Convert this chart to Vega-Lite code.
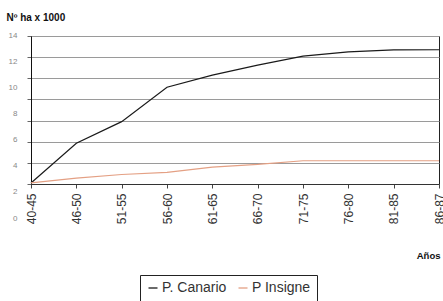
{
  "$schema": "https://vega.github.io/schema/vega-lite/v6.json",
  "width": 408,
  "height": 148,
  "autosize": "none",
  "padding": {"left": 31, "top": 36, "right": 4, "bottom": 117},
  "background": "white",
  "config": {
    "font": "Liberation Sans",
    "view": {"stroke": "#222", "strokeWidth": 1}
  },
  "data": {
    "values": [
      {"periodo": "40-45", "serie": "P. Canario", "ha": 0.1},
      {"periodo": "46-50", "serie": "P. Canario", "ha": 3.85},
      {"periodo": "51-55", "serie": "P. Canario", "ha": 5.9},
      {"periodo": "56-60", "serie": "P. Canario", "ha": 9.15},
      {"periodo": "61-65", "serie": "P. Canario", "ha": 10.3},
      {"periodo": "66-70", "serie": "P. Canario", "ha": 11.25},
      {"periodo": "71-75", "serie": "P. Canario", "ha": 12.1},
      {"periodo": "76-80", "serie": "P. Canario", "ha": 12.5},
      {"periodo": "81-85", "serie": "P. Canario", "ha": 12.68},
      {"periodo": "86-87", "serie": "P. Canario", "ha": 12.7},
      {"periodo": "40-45", "serie": "P Insigne", "ha": 0.1},
      {"periodo": "46-50", "serie": "P Insigne", "ha": 0.55},
      {"periodo": "51-55", "serie": "P Insigne", "ha": 0.9},
      {"periodo": "56-60", "serie": "P Insigne", "ha": 1.1},
      {"periodo": "61-65", "serie": "P Insigne", "ha": 1.6},
      {"periodo": "66-70", "serie": "P Insigne", "ha": 1.85},
      {"periodo": "71-75", "serie": "P Insigne", "ha": 2.2},
      {"periodo": "76-80", "serie": "P Insigne", "ha": 2.2},
      {"periodo": "81-85", "serie": "P Insigne", "ha": 2.2},
      {"periodo": "86-87", "serie": "P Insigne", "ha": 2.2}
    ]
  },
  "mark": {"type": "line", "strokeWidth": 1.2},
  "encoding": {
    "x": {
      "field": "periodo",
      "type": "ordinal",
      "sort": null,
      "scale": {"type": "point", "padding": 0},
      "axis": {
        "title": "Años",
        "titleFont": "Liberation Sans",
        "titleFontWeight": "bold",
        "titleFontSize": 9.5,
        "titleColor": "#111",
        "titleAlign": "right",
        "titleBaseline": "alphabetic",
        "titleX": 409,
        "titleY": 74,
        "labelAngle": -90,
        "labelFontSize": 12,
        "labelColor": "#333",
        "labelPadding": 5,
        "tickSize": 4,
        "tickColor": "#444",
        "domainColor": "#333",
        "grid": false
      }
    },
    "y": {
      "field": "ha",
      "type": "quantitative",
      "scale": {"domain": [0, 14], "nice": false, "zero": true},
      "axis": {
        "values": [0, 2, 4, 6, 8, 10, 12, 14],
        "title": "Nº ha x 1000",
        "titleFont": "Liberation Sans",
        "titleFontWeight": "bold",
        "titleFontSize": 10,
        "titleColor": "#111",
        "titleAngle": 0,
        "titleAlign": "left",
        "titleBaseline": "middle",
        "titleX": -25,
        "titleY": -19,
        "labelFontSize": 8,
        "labelColor": "#888",
        "labelPadding": 10,
        "labelOffset": {"expr": "(14 - datum.value) * 2.5 - 1"},
        "tickSize": 4,
        "tickColor": "#666",
        "domainColor": "#111",
        "grid": true,
        "gridColor": "#9a9a9a",
        "gridWidth": 1
      }
    },
    "color": {
      "field": "serie",
      "type": "nominal",
      "sort": ["P. Canario", "P Insigne"],
      "scale": {"domain": ["P. Canario", "P Insigne"], "range": ["#1a1a1a", "#e4a084"]},
      "legend": {
        "title": null,
        "orient": "none",
        "legendX": 109,
        "legendY": 239,
        "direction": "horizontal",
        "symbolType": "stroke",
        "symbolSize": 81,
        "symbolStrokeWidth": 1.3,
        "labelFont": "Liberation Sans",
        "labelFontSize": 14,
        "labelColor": "#333",
        "labelOffset": 2,
        "columnPadding": 8,
        "strokeColor": "#222",
        "padding": 6,
        "fillColor": "white"
      }
    }
  }
}
